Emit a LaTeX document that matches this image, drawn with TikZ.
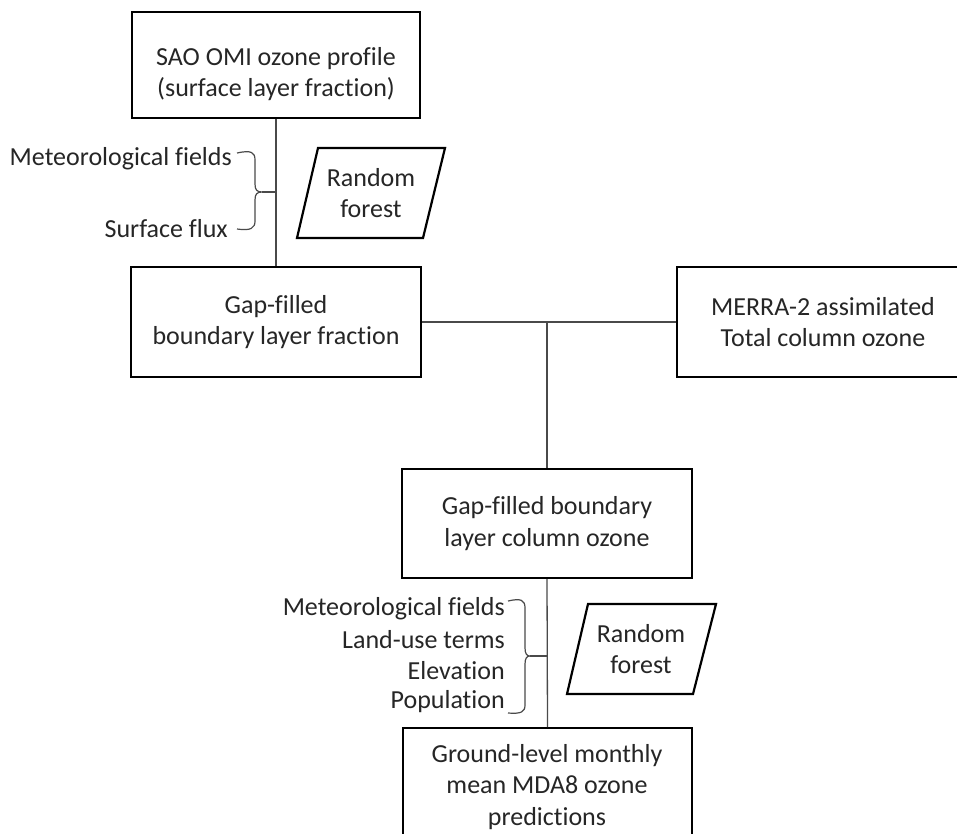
\documentclass[tikz,border=0pt]{standalone}
\usepackage{fontspec}
\setmainfont{Carlito}[Ligatures=NoCommon]
\definecolor{txt}{HTML}{262626}
\definecolor{linec}{HTML}{4A4A4A}
\newcommand\fsz{\fontsize{26}{31.5}\selectfont}
\tikzset{
  box/.style={draw=black, line width=2.2pt, inner sep=0pt, align=center, text=txt, font=\fsz},
  boxtext/.style={inner sep=0pt, align=center, text=txt, font=\fsz},
  conn/.style={draw=linec, line width=1.3pt},
  bracepath/.style={draw=linec, line width=1.2pt},
  lbl/.style={anchor=east, text=txt, font=\fsz, inner sep=0pt},
  para/.style={draw=black, line width=2.2pt, line join=miter},
}
\begin{document}
\begin{tikzpicture}[x=1pt,y=-1pt]
\useasboundingbox (0,0) rectangle (957,833);
\clip (0,0) rectangle (957,833);
\fill[white] (0,0) rectangle (957,833);

% boxes
\node[box, minimum width=288pt, minimum height=106pt] (sao) at (276,65) {};
\node[boxtext] (saotext) at (276,74) {SAO OMI ozone profile\\(surface layer fraction)};
\node[box, minimum width=290pt, minimum height=110pt] (gfb) at (276,322) {Gap-filled\\boundary layer fraction};
\node[box, minimum width=292pt, minimum height=110pt] (merra) at (823,322) {MERRA-2 assimilated\\Total column ozone};
\node[box, minimum width=290pt, minimum height=109pt] (gfc) at (547,523.5) {Gap-filled boundary\\layer column ozone};
\node[box, minimum width=289pt, minimum height=124pt, anchor=north] (gl) at (547.5,727) {};
\node[boxtext] (gltext) at (547,787) {Ground-level monthly\\mean MDA8 ozone\\predictions};

% random forest parallelograms
\draw[para] (297,238) -- (423,238) -- (445,148) -- (318,148) -- cycle;
\node[boxtext] (rf1) at (371,193) {Random\\forest};
\draw[para] (567,694) -- (693,694) -- (716,604) -- (588,604) -- cycle;
\node[boxtext] (rf2) at (641,649) {Random\\forest};

% connectors
\draw[conn] (sao.south) -- (gfb.north);
\draw[conn] (gfb.east) -- (merra.west);
\coordinate (jn) at (547,322);
\draw[conn] (jn) -- (gfc.north);
\draw[conn] (gfc.south) -- (gl.north);

% brace 1
\node[lbl] (met1) at (232,159) {Meteorological fields};
\node[lbl] (sfx) at (228,229) {Surface flux};
\coordinate (b1) at (262,192);
\draw[bracepath] (237,153) .. controls (251,150) and (255,152) .. (255,160) -- (255,184)
  .. controls (255,190) and (257,192) .. (b1)
  .. controls (257,192) and (255,194) .. (255,200) -- (255,221)
  .. controls (255,228) and (251,231) .. (237,229);
\draw[conn] (b1) -- (b1 -| sao.south);

% brace 2
\node[lbl] (met2) at (505,609) {Meteorological fields};
\node[lbl] (lut) at (505,640) {Land-use terms};
\node[lbl] (elev) at (505,671) {Elevation};
\node[lbl] (pop) at (505,702) {Population};
\coordinate (b2) at (530,656);
\draw[bracepath] (508,601) .. controls (521,598) and (525,600) .. (525,608) -- (525,648)
  .. controls (525,654) and (527,656) .. (b2)
  .. controls (527,656) and (525,658) .. (525,664) -- (525,705)
  .. controls (525,712) and (521,714) .. (508,713);
\draw[conn] (b2) -- (b2 -| gfc.south);
\end{tikzpicture}
\end{document}
